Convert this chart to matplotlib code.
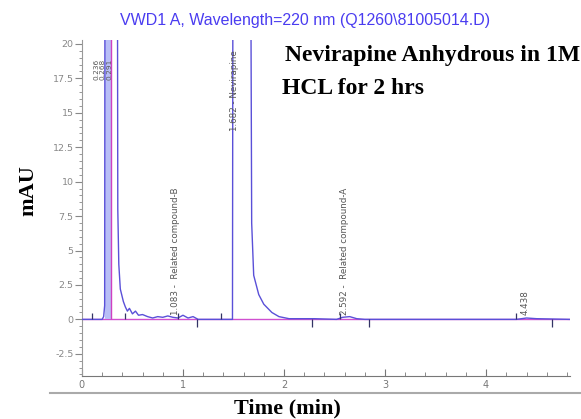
import numpy as np
import matplotlib
matplotlib.use("Agg")
import matplotlib.pyplot as plt

# chromatogram trace (time in min, signal in mAU)
t = [0.0, 0.10, 0.20, 0.215, 0.225, 0.232, 0.30, 0.345, 0.355, 0.365, 0.38, 0.41, 0.43,
     0.45, 0.47, 0.50, 0.53, 0.56, 0.60, 0.65, 0.70, 0.75, 0.80, 0.85, 0.90, 0.95,
     1.00, 1.05, 1.10, 1.15, 1.30, 1.49, 1.50, 1.655, 1.68, 1.70, 1.75, 1.80, 1.88,
     1.95, 2.05, 2.30, 2.52, 2.58, 2.65, 2.72, 2.80, 3.50, 4.30, 4.40, 4.50, 4.83]
mau = [0.0, 0.0, 0.0, 0.2, 1.0, 60.0, 60.0, 60.0, 8.0, 4.0, 2.2, 1.3, 0.9,
       0.6, 0.8, 0.4, 0.6, 0.3, 0.35, 0.2, 0.1, 0.2, 0.15, 0.25, 0.15, 0.1,
       0.3, 0.1, 0.2, 0.0, 0.0, 0.0, 60.0, 60.0, 7.0, 3.2, 1.8, 1.1, 0.5,
       0.2, 0.05, 0.05, 0.0, 0.15, 0.2, 0.05, 0.0, 0.0, 0.0, 0.1, 0.05, 0.0]

# peak annotations
peak_pos = [0.14, 0.205, 0.27, 0.93, 1.51, 2.60, 4.39]
peak_base = [17.4, 17.4, 17.4, 0.3, 13.7, 0.3, 0.3]
peak_size = [5.3, 5.3, 5.3, 6.3, 6.3, 6.3, 6.3]
peak_txt = ["0.236", "0.268", "0.291", "1.083 -  Related compound-B",
            "1.682 - Nevirapine", "2.592 -  Related compound-A", "4.438"]

# integration event marks on the baseline
ev_up = [0.10, 0.43, 0.95, 1.38, 2.55, 4.30]
ev_down = [1.14, 2.28, 2.84, 4.65]

fig = plt.figure(figsize=(5.81, 4.19), dpi=100)
ax = fig.add_axes([0.141, 0.103, 0.84, 0.802])

ax.axhline(0, color="#d050d0", lw=1.0, zorder=1)
ax.fill_between([0.232, 0.29], 0, 60, color="#b8bef6", lw=0, zorder=2)
ax.plot(t, mau, color="#5a50d8", lw=1.0, zorder=3)
ax.vlines(0.29, 0, 60, color="#d040c0", lw=1.0, zorder=4)
ax.vlines(ev_up, 0, 0.45, color="#333366", lw=0.9, zorder=5)
ax.vlines(ev_down, -0.55, 0, color="#333366", lw=0.9, zorder=5)

for x, b, s, fs in zip(peak_pos, peak_base, peak_txt, peak_size):
    ax.text(x, b, s, rotation=90, ha="center", va="bottom", fontsize=fs,
            color="#555555", family="DejaVu Sans")

ax.set_xlim(0, 4.83)
ax.set_ylim(-4.1, 20.3)
ax.set_xticks([0, 1, 2, 3, 4])
ax.set_xticks(np.arange(0, 4.9, 0.2), minor=True)
ax.set_yticks([-2.5, 0, 2.5, 5, 7.5, 10, 12.5, 15, 17.5, 20])
ax.set_yticklabels(["-2.5", "0", "2.5", "5", "7.5", "10", "12.5", "15", "17.5", "20"])
ax.set_yticks(np.arange(-4.0, 20.3, 0.5), minor=True)
ax.tick_params(axis="x", which="both", direction="in", colors="#777777",
               labelsize=7, pad=3)
ax.tick_params(axis="x", which="major", length=5)
ax.tick_params(axis="x", which="minor", length=3)
ax.tick_params(axis="y", which="both", direction="out", colors="#888888",
               labelsize=6.8, pad=1)
ax.tick_params(axis="y", which="major", length=5)
ax.tick_params(axis="y", which="minor", length=2.5)
for sp in ["top", "right"]:
    ax.spines[sp].set_visible(False)
ax.spines["left"].set_color("#999999")
ax.spines["bottom"].set_color("#777777")

fig.add_artist(plt.Line2D([50 / 581, 1.0], [1 - 393 / 419] * 2, color="#aaaaaa", lw=1.5))

fig.text(0.525, 1 - 21 / 419, "VWD1 A, Wavelength=220 nm (Q1260\\81005014.D)",
         ha="center", va="center", color="#4a3cf0", fontsize=11.5,
         family="Liberation Sans")
fig.text(285 / 581, 1 - 56 / 419, "Nevirapine Anhydrous in 1M", ha="left", va="center",
         fontsize=17, fontweight="bold", family="Liberation Serif")
fig.text(282 / 581, 1 - 88 / 419, "HCL for 2 hrs", ha="left", va="center",
         fontsize=17, fontweight="bold", family="Liberation Serif")
fig.text(28 / 581, 1 - 191 / 419, "mAU", rotation=90, ha="center", va="center",
         fontsize=16, fontweight="bold", family="Liberation Serif")
fig.text(287 / 581, 1 - 408 / 419, "Time (min)", ha="center", va="center",
         fontsize=16, fontweight="bold", family="Liberation Serif")

fig.savefig("out.png", dpi=100)
